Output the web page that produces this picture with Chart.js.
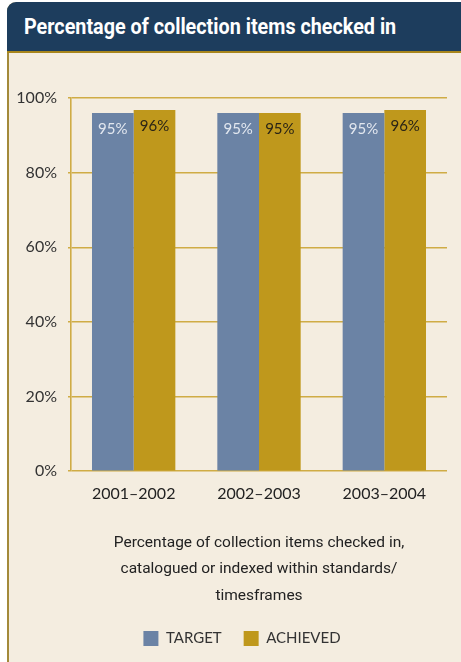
<!DOCTYPE html>
<html lang="en">
<head>
    <meta charset="UTF-8">
    <title>Percentage of collection items checked in</title>
    <script src="https://cdn.jsdelivr.net/npm/chart.js"></script>
    <style>
        body { margin: 0; background: #fff; width: 461px; height: 662px; overflow: hidden; position: relative; }
        .panel { position: absolute; left: 7px; top: 2px; width: 470px; height: 680px; background: #f4ede0; border-left: 2px solid #a38a3a; border-top-left-radius: 9px; }
        .header { position: absolute; left: 7px; top: 2px; width: 470px; height: 49px; background: #1d3d5d; border-top-left-radius: 9px; border-bottom: 2px solid #a8861c; }
        .header h1 { margin: 0; position: absolute; left: 17px; top: 12px; color: #fff; font: bold 22px Roboto, sans-serif; white-space: nowrap; transform-origin: 0 50%; }
        /* canvas runs a little past the right edge so the legend sits where it should */
        #chartWrap { position: absolute; left: 9px; top: 53px; width: 466px; height: 609px; }
    </style>
</head>
<body>
    <div class="panel"></div>
    <div class="header"><h1 id="title">Percentage of collection items checked in</h1></div>
    <div id="chartWrap"><canvas id="chart"></canvas></div>
    <script>
        const years = ['2001\u20132002', '2002\u20132003', '2003\u20132004'];
        // bar heights as drawn, and the numbers printed on them
        const targetBars = [96, 96, 96];
        const achievedBars = [96.8, 96, 96.8];
        const targetLabels = ['95%', '95%', '95%'];
        const achievedLabels = ['96%', '95%', '96%'];
        const caption = ['Percentage of collection items checked in,', 'catalogued or indexed within standards/', 'timesframes'];

        const gold = '#cfac45';

        // squeeze the heading to look like the condensed face
        const title = document.getElementById('title');
        title.style.transform = 'scaleX(' + (372 / title.offsetWidth) + ')';

        // print the value near the top of each bar
        const barLabels = {
            id: 'barLabels',
            afterDatasetsDraw(chart) {
                const ctx = chart.ctx;
                ctx.save();
                ctx.font = '15px Lato, sans-serif';
                ctx.textAlign = 'center';
                ctx.textBaseline = 'middle';
                chart.data.datasets.forEach((ds, i) => {
                    chart.getDatasetMeta(i).data.forEach((bar, j) => {
                        ctx.fillStyle = ds.labelColor;
                        ctx.fillText(ds.printed[j], bar.x, bar.y + 16);
                    });
                });
                ctx.restore();
            }
        };

        new Chart(document.getElementById('chart'), {
            type: 'bar',
            data: {
                labels: years,
                datasets: [
                    { label: 'TARGET', data: targetBars, printed: targetLabels, backgroundColor: '#6b83a5', labelColor: '#e2e7ef' },
                    { label: 'ACHIEVED', data: achievedBars, printed: achievedLabels, backgroundColor: '#bf981c', labelColor: '#2a2416' }
                ]
            },
            options: {
                responsive: true,
                maintainAspectRatio: false,
                animation: false,
                layout: { padding: { left: 0, right: 0, top: 45, bottom: 6 } },
                datasets: { bar: { barPercentage: 1, categoryPercentage: 0.665 } },
                plugins: {
                    tooltip: { enabled: false },
                    legend: {
                        position: 'bottom',
                        labels: {
                            boxWidth: 15, boxHeight: 15, padding: 22,
                            color: '#333',
                            font: { family: 'Lato, sans-serif', size: 15 }
                        }
                    }
                },
                scales: {
                    x: {
                        grid: { display: false },
                        border: { display: false },
                        ticks: { color: '#222', padding: 5, font: { family: 'Lato, sans-serif', size: 16 } },
                        title: {
                            display: true,
                            text: caption,
                            color: '#222',
                            padding: { top: 21, bottom: 0 },
                            font: { family: 'Roboto, sans-serif', size: 15.5, lineHeight: 1.71 }
                        }
                    },
                    y: {
                        min: 0, max: 100,
                        afterFit(scale) { scale.width = 62; },
                        grid: { color: gold, lineWidth: 1.6, tickLength: 3 },
                        border: { color: gold, width: 1.6 },
                        ticks: {
                            stepSize: 20, padding: 11, color: '#333',
                            font: { family: 'Lato, sans-serif', size: 16 },
                            callback: v => v + '%'
                        }
                    },
                    yRight: {
                        position: 'right',
                        afterFit(scale) { scale.width = 28; },
                        grid: { display: false },
                        border: { display: false },
                        ticks: { display: false }
                    }
                }
            },
            plugins: [barLabels]
        });
    </script>
</body>
</html>
